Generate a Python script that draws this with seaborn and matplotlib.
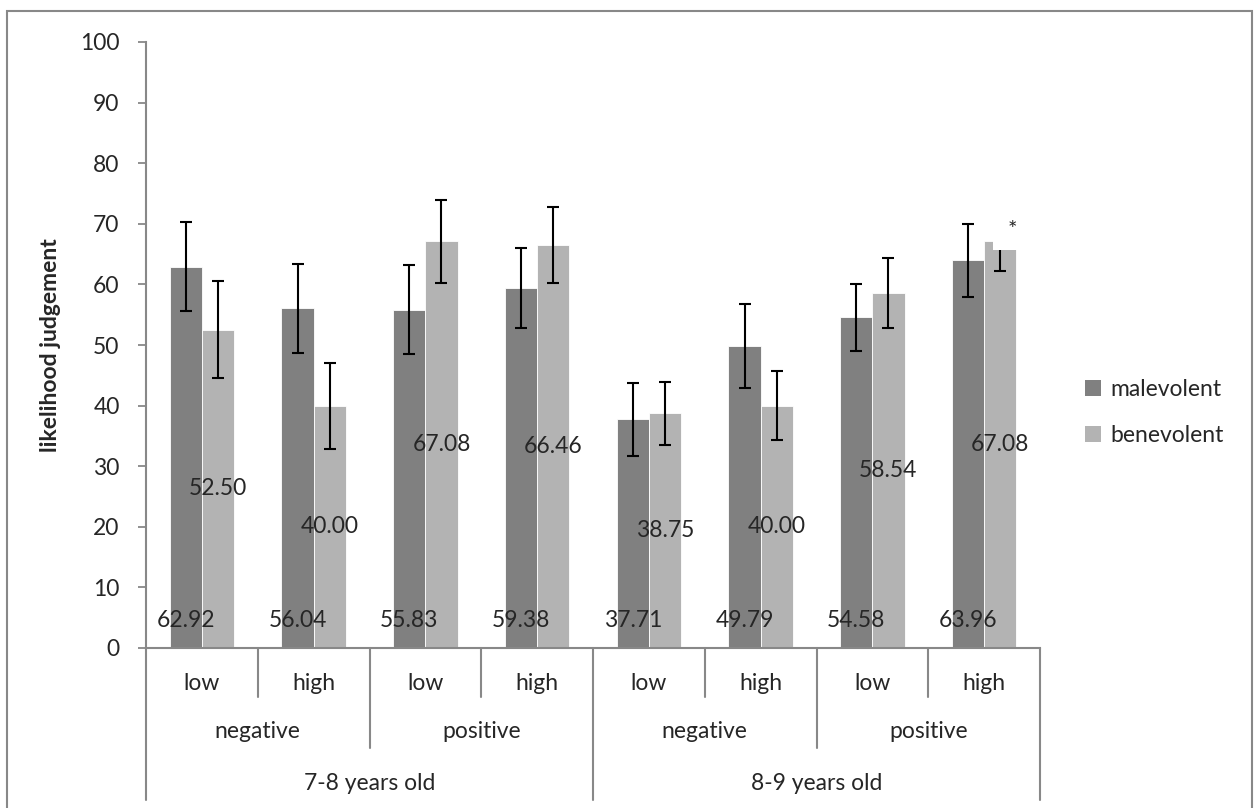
import matplotlib
matplotlib.use("Agg")
import matplotlib.pyplot as plt
from matplotlib.patches import Rectangle
import numpy as np
import pandas as pd
import seaborn as sns

# ---- data -------------------------------------------------------------
intensity = ["low", "high", "low", "high", "low", "high", "low", "high"]
valence = ["negative", "positive", "negative", "positive"]
age = ["7-8 years old", "8-9 years old"]
series = ["malevolent", "benevolent"]

malevolent = [62.92, 56.04, 55.83, 59.38, 37.71, 49.79, 54.58, 63.96]
benevolent = [52.50, 40.00, 67.08, 66.46, 38.75, 40.00, 58.54, 67.08]
malevolent_err = [7.35, 7.3, 7.3, 6.6, 6.05, 6.9, 5.5, 6.0]
benevolent_err = [8.0, 7.1, 6.9, 6.3, 5.2, 5.7, 5.75, 4.9]

colors = ["#808080", "#b3b3b3"]
axis_gray = "#888888"

# ---- long-form table ---------------------------------------------------
cond = [f"c{i}" for i in range(len(intensity))]
df = pd.DataFrame({
    "cond": cond * 2,
    "series": [series[0]] * len(cond) + [series[1]] * len(cond),
    "value": malevolent + benevolent,
    "err": malevolent_err + benevolent_err,
})

sns.set_style("white")
plt.rcParams["font.family"] = ["Lato", "DejaVu Sans"]
FS = 16.5

fig = plt.figure(figsize=(12.54, 8.08), dpi=100)
ax = fig.add_axes([146 / 1254, 1 - 648 / 808, (1040 - 146) / 1254, (648 - 42) / 808])

sns.barplot(data=df, x="cond", y="value", hue="series", palette=colors,
            errorbar=None, width=0.575, saturation=1, ax=ax, legend=True,
            edgecolor="white", linewidth=0.6, zorder=2)

# error bars and value labels from the drawn bars
for container, errs, kind in zip(ax.containers, [malevolent_err, benevolent_err], series):
    for bar, e in zip(container, errs):
        xc = bar.get_x() + bar.get_width() / 2
        h = bar.get_height()
        ax.errorbar(xc, h, yerr=e, fmt="none", ecolor="black", elinewidth=1.5,
                    capsize=4.5, capthick=1.5, zorder=3)
        if kind == "malevolent":
            ax.text(xc, 4.6, f"{h:.2f}", ha="center", va="center", fontsize=FS, zorder=6)
        else:
            ax.text(xc, h / 2, f"{h:.2f}", ha="center", va="center", fontsize=FS, zorder=6)

# significance marker box on the last benevolent bar
ax.add_patch(Rectangle((7.08, 65.6), 0.42, 10, facecolor="white", edgecolor="none", zorder=4))
ax.text(7.25, 69.0, "*", ha="center", va="center", fontsize=16, zorder=5)

# ---- axes styling ---------------------------------------------------------
ax.set_ylim(0, 100)
ax.set_xlim(-0.5, 7.5)
ax.set_yticks(np.arange(0, 101, 10))
ax.tick_params(axis="y", direction="out", length=6, width=1.3, color=axis_gray,
               pad=13, labelsize=FS, left=True)
ax.set_xticks([])
ax.set_xlabel("")
ax.set_ylabel("likelihood judgement", fontsize=FS, fontweight="bold", labelpad=14)
for side in ["top", "right"]:
    ax.spines[side].set_visible(False)
for side in ["left", "bottom"]:
    ax.spines[side].set_color(axis_gray)
    ax.spines[side].set_linewidth(1.5)

# ---- multi-level category axis --------------------------------------------
tr = ax.get_xaxis_transform()
lv1_y, lv2_y, lv3_y = -0.0809, -0.165, -0.251
line_kw = dict(color=axis_gray, lw=1.5, transform=tr, clip_on=False)

for i in range(len(intensity) + 1):
    x = i - 0.5
    if i % 4 == 0:
        ax.plot([x, x], [0, lv3_y], **line_kw)
    elif i % 2 == 0:
        ax.plot([x, x], [0, lv2_y], **line_kw)
    else:
        ax.plot([x, x], [0, lv1_y], **line_kw)

for i, lab in enumerate(intensity):
    ax.text(i, -0.0578, lab, ha="center", va="center", fontsize=FS, transform=tr)
for j, lab in enumerate(valence):
    ax.text(2 * j + 0.5, -0.1386, lab, ha="center", va="center", fontsize=FS, transform=tr)
for k, lab in enumerate(age):
    ax.text(4 * k + 1.5, -0.2228, lab, ha="center", va="center", fontsize=FS, transform=tr)

# ---- legend ------------------------------------------------------------------
leg = ax.legend(title=None, loc="center left", bbox_to_anchor=(1.027, 0.389),
                frameon=False, fontsize=FS, handlelength=0.7, handleheight=0.7,
                handletextpad=0.4, labelspacing=1.1)
for h in leg.legend_handles:
    h.set_edgecolor("none")

# chart frame
fig.patches.append(Rectangle((7 / 1254, -0.01), 1245 / 1254, 1 - 11 / 808 + 0.01,
                             transform=fig.transFigure, fill=False,
                             edgecolor=axis_gray, lw=1.5, zorder=0))

fig.savefig("out.png", dpi=100)
